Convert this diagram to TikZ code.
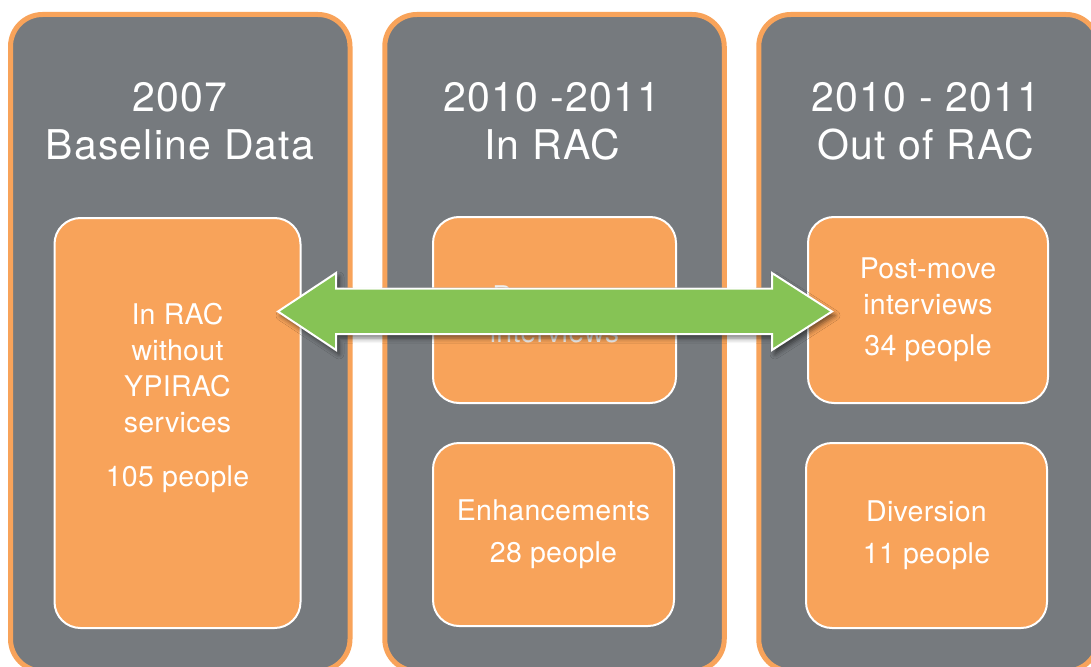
\documentclass[tikz,border=0pt]{standalone}
\usepackage{fontspec}
\setmainfont{TeX Gyre Heros}
\usetikzlibrary{shadows.blur}
\definecolor{slate}{HTML}{767A7E}
\definecolor{peach}{HTML}{F8A35A}
\definecolor{leaf}{HTML}{86C355}
\tikzset{
  column/.style={draw=peach,fill=slate,line width=5pt,rounded corners=32pt},
  panel/.style={draw=white,fill=peach,line width=2pt,rounded corners=26pt,inner sep=0pt},
  heading/.style={text=white,align=center,font=\fontsize{41}{48}\selectfont\addfontfeature{LetterSpace=3}},
  boxtext/.style={text=white,align=center,font=\fontsize{28.5}{36}\selectfont\addfontfeature{LetterSpace=1}},
  bigarrow/.style={fill=leaf,draw=white,line width=2pt,line join=miter,
    blur shadow={shadow xshift=3pt,shadow yshift=-4pt,shadow blur radius=5pt,shadow opacity=55}}
}
\begin{document}
\begin{tikzpicture}[x=1pt,y=-1pt]
  \clip (0,0) rectangle (1091,666);
  % the three time columns
  \foreach \cx in {180.25,554.5,928.5}
    \draw[column] (\cx-169.75,14.5) rectangle (\cx+169.75,671);
  \node[heading] (base head) at (180,121.5) {2007\\Baseline Data};
  \node[heading] (in head) at (552,121.5) {2010 -2011\\In RAC};
  \node[heading] (out head) at (926,121.5) {2010 - 2011\\Out of RAC};
  % groups
  \node[panel,minimum width=246pt,minimum height=410pt] (base) at (177.5,423) {};
  \node[panel,minimum width=243pt,minimum height=186pt] (pre) at (554.5,310) {};
  \node[panel,minimum width=241pt,minimum height=183pt] (enh) at (553.5,534.5) {};
  \node[panel,minimum width=240pt,minimum height=186pt] (post) at (928,310) {};
  \node[panel,minimum width=241pt,minimum height=185pt] (div) at (926.5,535.5) {};
  \node[boxtext] (base txt) at ([yshift=25pt]base.center) {In RAC\\without\\YPIRAC\\services\\[18pt]105 people};
  \node[boxtext,text=white!88!slate] (pre txt) at ([yshift=-4pt]pre.center) {Pre-move\\interviews};
  \node[boxtext] (post txt) at (post) {Post-move\\interviews\\[5pt]34 people};
  \node[boxtext] (enh txt) at (enh) {Enhancements\\[6pt]28 people};
  \node[boxtext] (div txt) at (div) {Diversion\\[6pt]11 people};
  % comparison arrow
  \draw[bigarrow] (278,311.5) -- (336,273) -- (336,288.5) -- (772,288.5) -- (772,273)
    -- (832,311.5) -- (772,350) -- (772,334) -- (336,334) -- (336,350) -- cycle;
\end{tikzpicture}
\end{document}
